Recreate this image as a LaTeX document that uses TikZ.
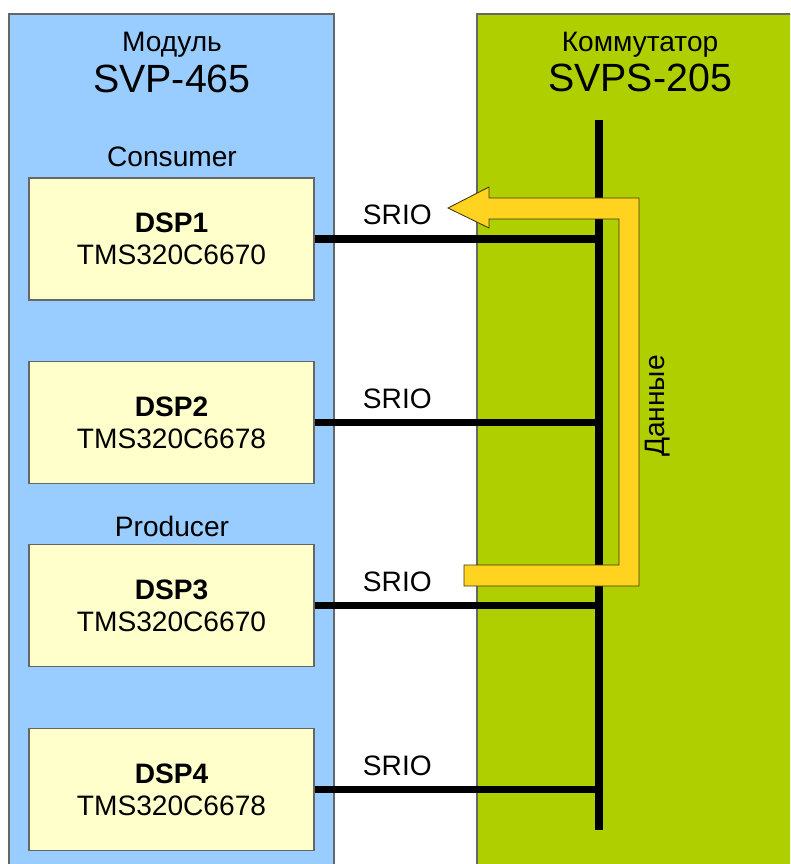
\documentclass[tikz,border=0pt]{standalone}
\usepackage{fontspec}
\setmainfont{Liberation Sans}
\def\xMod{4.3}
\def\xCom{16.0}
\def\xCore{4.2875}
\def\xBus{14.975}
\definecolor{mdblue}{HTML}{99CCFF}
\definecolor{mdgreen}{HTML}{B0CF00}
\definecolor{mdcream}{HTML}{FFFFCC}
\definecolor{mdamber}{HTML}{FFD320}
\definecolor{mdedge}{HTML}{666666}
\newcommand{\mdsmall}{\fontsize{20}{23}\selectfont}
\newcommand{\mdbig}{\fontsize{28}{32}\selectfont}
\tikzset{
  mdpanel/.style={draw=mdedge, line width=0.8pt},
  mdcore/.style={draw=mdedge, line width=0.8pt, fill=mdcream, minimum width=7.125cm,
    minimum height=3.05cm, align=center, font=\mdsmall, inner sep=0pt},
  mdlink/.style={line width=5.5pt},
  mdbus/.style={line width=5.8pt},
  mdflow/.style={draw=black!75!mdamber, line width=0.6pt, fill=mdamber},
  mdsub/.style={font=\mdsmall, inner sep=0pt, anchor=base},
  mdhead/.style={font=\mdbig, inner sep=0pt, anchor=base},
}
\newcommand{\mdunit}[4]{%
  \node[mdcore] (#1) at (\xCore,#2) {\textbf{#3}\\#4};
  \draw[mdlink] (#1.east) -- (#1.east -| bustop)
    node[mdsub, pos=0.291, yshift=0.36cm] (#1srio) {SRIO};}

\begin{document}
\begin{tikzpicture}
  \clip (0,0) rectangle (19.75,-21.6);
  % panels
  \draw[mdpanel, fill=mdblue] (0.225,-0.35) rectangle (8.35,-22);
  \draw[mdpanel, fill=mdgreen] (11.925,-0.35) rectangle (20.2,-22);
  \node[mdsub] (modcap) at (\xMod,-1.3) {Модуль};
  \node[mdhead] (modname) at (\xMod,-2.317) {SVP-465};
  \node[mdsub] (comcap) at (\xCom,-1.29) {Коммутатор};
  \node[mdhead] (comname) at (\xCom,-2.29) {SVPS-205};
  \node[mdsub] (cons) at (\xMod,-4.175) {Consumer};
  \node[mdsub] (prod) at (\xMod,-13.4) {Producer};

  % bus
  \coordinate (bustop) at (\xBus,-3.0);
  \coordinate (busbot) at (\xBus,-20.75);
  \draw[mdbus] (bustop) -- (busbot);

  \mdunit{dsp1}{-5.975}{DSP1}{TMS320C6670}
  \mdunit{dsp2}{-10.5625}{DSP2}{TMS320C6678}
  \mdunit{dsp3}{-15.1375}{DSP3}{TMS320C6670}
  \mdunit{dsp4}{-19.7375}{DSP4}{TMS320C6678}

  % data flow
  \draw[mdflow] (11.2,-5.2) -- (12.225,-4.675) -- (12.225,-4.95) -- (15.975,-4.95)
    -- (15.975,-14.65) -- (11.6,-14.65) -- (11.6,-14.125) -- (15.475,-14.125)
    -- (15.475,-5.475) -- (12.225,-5.475) -- (12.225,-5.7) -- cycle;
  \node[mdsub, rotate=90] (data) at (16.6,-10.15) {Данные};
\end{tikzpicture}
\end{document}
